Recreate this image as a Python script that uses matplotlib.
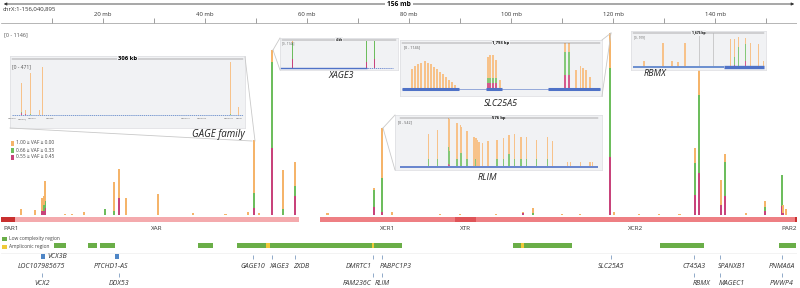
import matplotlib.pyplot as plt
import numpy as np

plt.rcParams['font.family'] = ['Open Sans', 'DejaVu Sans']

W, H = 800, 288
CHR_LEN = 156.040895  # mb

ORANGE = '#f5b46a'
GREEN = '#6dbd5d'
PINK = '#c8437b'
INSET_COLORS = ('#d45a8c', '#86c878', '#f7c28a')

# main track: position (mb) and stacked segment heights (pink, green, orange)
bar_pos = [3.9, 6.7, 8.0, 8.4, 8.6, 12.5, 14.0, 16.3, 20.4, 22.2, 23.1, 24.5, 30.8,
           37.6, 44.0, 48.4, 49.6, 50.5, 53.1, 55.3, 57.6, 64.0, 73.1, 74.7, 76.7,
           86.0, 90.0, 97.0, 102.4, 104.3, 110.0, 113.5, 119.4, 120.2, 125.0, 129.0,
           133.0, 136.1, 136.9, 141.2, 142.0, 146.0, 149.8, 153.1, 153.3, 153.9]
bar_pink = [0, 0, 25, 25, 44, 0, 0, 0, 0, 0, 107, 0, 0,
            0, 0, 0, 44, 0, 422, 0, 120, 0, 50, 19, 0,
            0, 0, 0, 10, 0, 0, 0, 365, 0, 0, 0,
            0, 126, 264, 63, 120, 0, 25, 57, 10, 0]
bar_green = [0, 0, 0, 38, 44, 0, 0, 0, 38, 25, 0, 0, 0,
             0, 0, 0, 95, 0, 541, 38, 63, 0, 107, 214, 0,
             0, 0, 0, 0, 13, 0, 0, 561, 0, 0, 0,
             0, 201, 492, 0, 214, 0, 25, 195, 0, 0]
bar_orange = [38, 31, 82, 57, 126, 8, 6, 19, 0, 183, 183, 107, 132,
              13, 6, 19, 333, 10, 76, 245, 151, 10, 13, 315, 19,
              8, 8, 6, 10, 31, 6, 8, 220, 19, 6, 8,
              6, 95, 163, 157, 50, 10, 38, 0, 53, 38]

# chromosome regions (mb)
region_names = ['PAR1', 'XAR', 'XCR1', 'XTR', 'XCR2', 'PAR2']
region_start = [0.0, 2.7, 62.5, 89.0, 93.1, 155.7]
region_end = [2.7, 58.4, 89.0, 93.1, 155.7, CHR_LEN]
region_colors = ['#c9302f', '#f4aaad', '#ee7f83', '#df5458', '#ee7f83', '#c9302f']

low_cx_start = [10.4, 17.1, 19.4, 38.6, 46.3, 49.3, 55.5, 100.4, 103.4, 129.2, 152.5]
low_cx_end = [12.7, 18.8, 22.4, 41.6, 49.2, 55.4, 78.6, 103.3, 112.0, 137.8, 155.9]
amplicon_start = [52.0, 72.7, 102.0]
amplicon_end = [52.7, 73.1, 102.5]

# genes: name, position (mb), label row, alignment
gene_names = ['GAGE10', 'XAGE3', 'ZXDB', 'DMRTC1', 'PABPC1P3', 'SLC25A5', 'CT45A3', 'SPANXB1',
              'PNMA6A', 'VCX2', 'DDX53', 'FAM236C', 'RLIM', 'RBMX', 'MAGEC1', 'PWWP4']
gene_pos = [49.4, 53.1, 57.6, 72.9, 74.7, 119.6, 135.9, 141.0,
            153.1, 8.0, 23.1, 72.9, 74.7, 135.9, 141.0, 153.1]
gene_row = [1, 1, 1, 1, 1, 1, 1, 1, 1, 2, 2, 2, 2, 2, 2, 2]
gene_align = ['center', 'left', 'left', 'right', 'left', 'center', 'center', 'left',
              'center', 'center', 'center', 'right', 'center', 'left', 'left', 'center']
nolink_names = ['LOC107985675', 'PTCHD1-AS']
nolink_pos = [8.0, 21.6]
box_genes = ['VCX3B', '']
box_pos = [8.2, 22.7]

# inset: GAGE family (kb, range 0-471)
gage_pos = [13, 18.5, 25, 36, 40, 289, 300]
gage_pink = [15, 10, 0, 0, 0, 0, 0]
gage_green = [15, 0, 10, 0, 0, 10, 0]
gage_orange = [254, 34, 363, 44, 427, 461, 71]
gage_labels = ['GAGE10', 'GAGE12J', 'GAGE13', 'GAGE2E', 'GAGE12C', 'GAGE12D', 'GAGE12H', 'GAGE1']
gage_label_pos = [0, 14, 27, 50, 230, 251, 287, 301]

# inset: XAGE3 (kb)
xage_pos = [0.39, 3.12, 3.40]
xage_pink = [368, 245, 368]
xage_green = [655, 860, 737]
xage_orange = [82, 0, 0]

# inset: SLC25A5 (bp, range 0-1146)
slc_pos = [91, 118, 145, 172, 208, 236, 263, 290, 317, 344, 371, 399, 426, 453, 480,
           779, 797, 824, 852, 888, 1477, 1513, 1576, 1613, 1640, 1667, 1703]
slc_pink = [0] * 15 + [149, 149, 149, 149, 0, 349, 349, 0, 0, 0, 0, 0]
slc_green = [0] * 15 + [125, 125, 125, 125, 0, 572, 572, 0, 0, 0, 0, 0]
slc_orange = [498, 573, 623, 647, 697, 647, 623, 548, 498, 423, 374, 299, 224, 174, 100,
              523, 573, 573, 448, 224, 225, 225, 473, 573, 523, 473, 299]
slc_exon_start = [0, 761, 1323]
slc_exon_end = [516, 906, 1793]

# inset: RLIM (bp, range 0-542)
rlim_pos = [84, 108, 140, 143, 166, 175, 180, 195, 215, 221, 224, 230, 241, 256, 282,
            300, 317, 332, 352, 367, 398, 428, 443, 488, 495, 524, 553, 559]
rlim_pink = [0, 0, 20, 15, 0, 0, 0, 0, 0, 0, 0, 0, 0, 0, 0,
             0, 0, 0, 0, 0, 0, 0, 0, 0, 0, 0, 0, 0]
rlim_green = [80, 80, 195, 150, 80, 147, 147, 80, 0, 80, 0, 0, 0, 0, 80,
              80, 130, 80, 80, 80, 80, 80, 0, 0, 0, 0, 0, 0]
rlim_orange = [282, 327, 327, 366, 406, 316, 294, 316, 328, 236, 294, 271, 260, 283, 214,
               236, 220, 282, 248, 248, 214, 248, 283, 45, 45, 45, 45, 45]

# inset: RBMX (bp, range 0-919)
rbmx_pos = [141, 384, 499, 576, 665, 1242, 1293, 1344, 1434, 1498, 1600, 1664]
rbmx_pink = [0, 0, 0, 0, 0, 0, 60, 0, 180, 0, 0, 0]
rbmx_green = [0, 0, 0, 0, 0, 0, 250, 600, 500, 0, 0, 0]
rbmx_orange = [178, 711, 178, 148, 711, 830, 520, 289, 179, 711, 681, 178]


def frect(x0, y0, x1, y1):
    return [x0 / W, 1 - y1 / H, (x1 - x0) / W, (y1 - y0) / H]


def stack(ax, pos, pink, green, orange, width, colors=(PINK, GREEN, ORANGE)):
    pink = np.array(pink, float)
    green = np.array(green, float)
    orange = np.array(orange, float)
    ax.bar(pos, pink, width=width, color=colors[0], linewidth=0)
    ax.bar(pos, green, width=width, bottom=pink, color=colors[1], linewidth=0)
    ax.bar(pos, orange, width=width, bottom=pink + green, color=colors[2], linewidth=0)


def add_inset(box, data, xr, top):
    x0, y0, x1, y1 = box
    dx0, dy0, dx1, dy1 = data
    ax = fig.add_axes(frect(*box), zorder=3)
    sx = (xr[1] - xr[0]) / (dx1 - dx0)
    ax.set_xlim(xr[0] - (dx0 - x0) * sx, xr[1] + (x1 - dx1) * sx)
    sy = top / (dy1 - dy0)
    ax.set_ylim(-(y1 - dy1) * sy, top + (dy0 - y0) * sy)
    ax.set_facecolor('#f1f2f4')
    ax.set_xticks([])
    ax.set_yticks([])
    for s in ax.spines.values():
        s.set_color('#e0e1e4')
        s.set_linewidth(0.6)
    return ax


fig = plt.figure(figsize=(8, 2.88), dpi=100)

# tracks axis: x in mb, y in pixels
tr = fig.add_axes(frect(1, 0, 797, 288), zorder=1)
tr.set_xlim(0, CHR_LEN)
tr.set_ylim(288, 0)
tr.axis('off')

# ruler
tr.annotate('', xy=(0, 4), xytext=(CHR_LEN, 4),
            arrowprops=dict(arrowstyle='<|-|>', color='#333333', lw=0.6, mutation_scale=4))
tr.text(CHR_LEN / 2, 4, '156 mb', fontsize=4.8, fontweight='bold', ha='center', va='center',
        bbox=dict(facecolor='white', edgecolor='none', pad=1.2))
tr.text(0.3, 9.5, 'chrX:1-156,040,895', fontsize=4.3, ha='left', va='center', color='#333333')
ticks = np.arange(10, 151, 10)
tr.vlines(ticks, 18, 22.5, color='#777777', lw=0.5)
tr.axhline(22.5, color='#999999', lw=0.5)
for t in ticks[1::2]:
    tr.text(t, 14, f'{t} mb', fontsize=4.3, ha='center', va='center', color='#333333')
tr.text(0.6, 35, '[0 - 1146]', fontsize=4, ha='left', va='center', color='#555555')

# regions
tr.barh(219.5, np.array(region_end) - np.array(region_start), left=region_start,
        height=5, color=region_colors, linewidth=0)
for name, s, e in zip(region_names, region_start, region_end):
    if name == 'PAR1':
        tr.text(0.4, 228.5, name, fontsize=4.6, ha='left', va='center', color='#333333')
    elif name == 'PAR2':
        tr.text(CHR_LEN, 228.5, name, fontsize=4.6, ha='right', va='center', color='#333333')
    else:
        tr.text((s + e) / 2, 228.5, name, fontsize=4.6, ha='center', va='center', color='#333333')

# low complexity / ampliconic
tr.barh(245.5, np.array(low_cx_end) - np.array(low_cx_start), left=low_cx_start,
        height=5.5, color='#6aae48', linewidth=0)
tr.barh(245.5, np.array(amplicon_end) - np.array(amplicon_start), left=amplicon_start,
        height=5.5, color='#f0c93a', linewidth=0)
tr.axhline(252.5, color='#eeeeee', lw=0.5)

# genes
for name, p, row, al in zip(gene_names, gene_pos, gene_row, gene_align):
    ty = 254.5 if row == 1 else 272.5
    ly = 266.5 if row == 1 else 283.5
    tr.vlines(p, ty, ty + 4.5, color='#7f9cc0', lw=0.6)
    off = {'center': 0, 'left': -0.4, 'right': -0.2}[al]
    tr.text(p + off, ly, name, fontsize=5, style='italic', ha=al, va='center', color='#333333')
for name, p in zip(nolink_names, nolink_pos):
    tr.text(p, 266.5, name, fontsize=5, style='italic', ha='center', va='center', color='#333333')
tr.barh(256.5, 0.8, left=np.array(box_pos) - 0.4, height=4.5, color='#4f86c6', linewidth=0)
for name, p in zip(box_genes, box_pos):
    if name:
        tr.text(p + 0.8, 256.5, name, fontsize=5, style='italic', ha='left', va='center', color='#333333')

# main bar track
ax = fig.add_axes(frect(1, 33, 797, 215), zorder=1)
ax.set_xlim(0, CHR_LEN)
ax.set_ylim(0, 1146)
ax.axis('off')
ax.patch.set_alpha(0)
stack(ax, bar_pos, bar_pink, bar_green, bar_orange, 0.42)
ax.axhline(0, color='#e8e8e8', lw=0.5, zorder=0)

# insets
a1 = add_inset((10, 56, 245, 128), (12, 62, 243, 115), (0, 306), 471)
stack(a1, gage_pos, gage_pink, gage_green, gage_orange, 1.4, colors=INSET_COLORS)
a1.hlines(0, 0, 306, color='#4f7ac4', lw=0.5, linestyles=(0, (2, 1)))
for lab, p in zip(gage_labels, gage_label_pos):
    a1.text(p, -30, lab, fontsize=1.6, ha='center', va='top', color='#555555')

a2 = add_inset((280, 38, 398, 70), (282, 40, 396, 68), (0, 4.2), 1146)
stack(a2, xage_pos, xage_pink, xage_green, xage_orange, 0.045)
a2.hlines(0, -0.1, 3.12, color='#4f72c7', lw=1.0)
a2.hlines(0, 3.12, 4.1, color='#4f72c7', lw=0.5, linestyles=(0, (2, 1)))

a3 = add_inset((400, 40, 602, 96), (402, 43, 600, 89), (0, 1793), 1146)
stack(a3, slc_pos, slc_pink, slc_green, slc_orange, 11, colors=INSET_COLORS)
a3.hlines(0, 0, 1793, color='#4f72c7', lw=0.4)
a3.hlines(np.zeros(len(slc_exon_start)), slc_exon_start, slc_exon_end, color='#4f72c7', lw=2.2)

a4 = add_inset((395, 115, 602, 170), (400, 118, 598, 166), (0, 576), 542)
stack(a4, rlim_pos, rlim_pink, rlim_green, rlim_orange, 3.5, colors=INSET_COLORS)
a4.hlines(-10, 0, 576, color='#4f72c7', lw=1.2)

a5 = add_inset((631, 31, 766, 70), (633, 36, 764, 67), (0, 1676), 919)
a5.vlines([845, 1024], 0, 1000, color='#bbbbbb', lw=0.5)
stack(a5, rbmx_pos, rbmx_pink, rbmx_green, rbmx_orange, 14, colors=INSET_COLORS)
a5.hlines(0, 0, 1170, color='#6b8fd0', lw=1.4)
a5.hlines(0, 1170, 1676, color='#4f72c7', lw=2.4)

# overlay in pixel coordinates for labels and connectors
ov = fig.add_axes([0, 0, 1, 1], zorder=5)
ov.set_xlim(0, W)
ov.set_ylim(H, 0)
ov.axis('off')
ov.patch.set_alpha(0)

conn = dict(color='#c9c9c9', lw=0.6)
ov.plot([10, 252], [128, 141], **conn)
ov.plot([245, 255], [57, 141], **conn)
ov.plot([273, 280], [50, 38], **conn)
ov.plot([273, 280], [50, 70], **conn)
ov.plot([611, 602], [33, 40], **conn)
ov.plot([611, 602], [33, 96], **conn)
ov.plot([383, 395], [128, 115], **conn)
ov.plot([383, 395], [128, 170], **conn)

headers = [(12, 243, 59, '306 kb', 4.2), (282, 396, 40, '4 kb', 2.2), (402, 600, 43, '1,793 bp', 3),
           (400, 598, 118, '576 bp', 3), (633, 764, 33, '1,676 bp', 2.4)]
for hx0, hx1, hy, lab, fs in headers:
    ov.plot([hx0, hx1], [hy, hy], color='#666666', lw=0.35)
    ov.text((hx0 + hx1) / 2, hy, lab, fontsize=fs, fontweight='bold', ha='center', va='center',
            bbox=dict(facecolor='#f1f2f4', edgecolor='none', pad=0.5))
ranges = [(12, 67, '[0 - 471]', 3.6), (282, 43, '[0 - 1146]', 2), (404, 47, '[0 - 1146]', 2.6),
          (398, 122, '[0 - 542]', 2.6), (634, 37, '[0 - 919]', 2)]
for rx, ry, lab, fs in ranges:
    ov.text(rx, ry, lab, fontsize=fs, ha='left', va='center', color='#555555')

ov.text(245, 135, 'GAGE family', fontsize=7, style='italic', ha='right', va='center', color='#222222')
ov.text(341, 76, 'XAGE3', fontsize=6.5, style='italic', ha='center', va='center', color='#222222')
ov.text(501, 103, 'SLC25A5', fontsize=6.5, style='italic', ha='center', va='center', color='#222222')
ov.text(487, 178, 'RLIM', fontsize=6.5, style='italic', ha='center', va='center', color='#222222')
ov.text(655, 74, 'RBMX', fontsize=6.5, style='italic', ha='center', va='center', color='#222222')

# VAF legend
vaf_labels = ['1.00 \u2265 VAF \u2265 0.00', '0.66 \u2265 VAF \u2265 0.33', '0.55 \u2265 VAF \u2265 0.45']
for i, (lab, c) in enumerate(zip(vaf_labels, [ORANGE, GREEN, PINK])):
    y = 143 + i * 7
    ov.add_patch(plt.Rectangle((11, y - 2.5), 2.5, 5, color=c, lw=0))
    ov.text(15.5, y, lab, fontsize=3.5, ha='left', va='center', color='#444444')

# region legend
ov.add_patch(plt.Rectangle((2, 236.5), 5, 4, color='#6aae48', lw=0))
ov.text(9, 238.5, 'Low complexity region', fontsize=3.5, ha='left', va='center', color='#444444')
ov.add_patch(plt.Rectangle((2, 244.5), 5, 4, color='#f0c93a', lw=0))
ov.text(9, 246.5, 'Ampliconic region', fontsize=3.5, ha='left', va='center', color='#444444')

fig.savefig('out.png', dpi=100)
